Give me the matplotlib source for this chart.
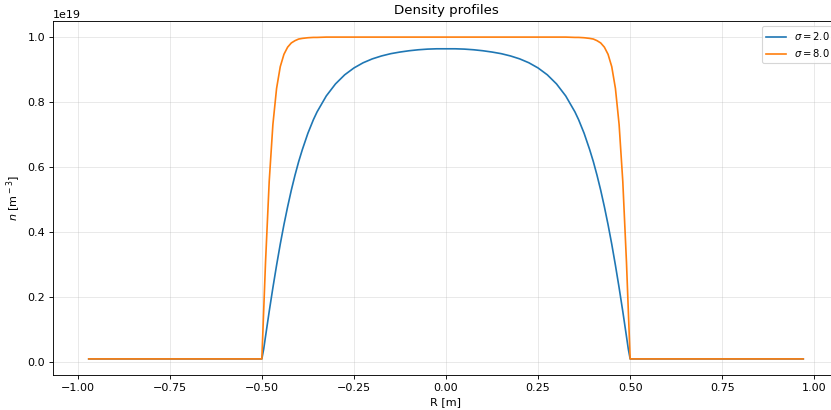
import matplotlib
matplotlib.use("Agg")
import matplotlib.pyplot as plt
import numpy as np

# radius [m] at which the profiles were read
r_m = [-0.97, -0.5, -0.495, -0.49, -0.48, -0.47, -0.46, -0.45, -0.44, -0.43, -0.42, -0.41,
       -0.4, -0.39, -0.375, -0.36, -0.35, -0.325, -0.3, -0.275, -0.25, -0.225, -0.2, -0.175,
       -0.15, -0.125, -0.1, -0.075, -0.05, -0.025,
       0.0,
       0.025, 0.05, 0.075, 0.1, 0.125, 0.15, 0.175, 0.2, 0.225, 0.25, 0.275, 0.3, 0.325,
       0.35, 0.36, 0.375, 0.39, 0.4, 0.41, 0.42, 0.43, 0.44, 0.45, 0.46, 0.47, 0.48, 0.49,
       0.495, 0.5, 0.97]

# density in units of 1e19 m^-3
n_sigma2 = [0.01, 0.01, 0.040, 0.079, 0.156, 0.229, 0.298, 0.363, 0.423, 0.478, 0.529, 0.575,
            0.617, 0.654, 0.704, 0.746, 0.770, 0.819, 0.856, 0.884, 0.905, 0.921, 0.933, 0.942,
            0.949, 0.954, 0.958, 0.961, 0.963, 0.964,
            0.964,
            0.964, 0.963, 0.961, 0.958, 0.954, 0.949, 0.942, 0.933, 0.921, 0.905, 0.884, 0.856,
            0.819, 0.770, 0.746, 0.704, 0.654, 0.617, 0.575, 0.529, 0.478, 0.423, 0.363, 0.298,
            0.229, 0.156, 0.079, 0.040, 0.01, 0.01]

n_sigma8 = [0.01, 0.01, 0.158, 0.307, 0.556, 0.731, 0.842, 0.909, 0.947, 0.969, 0.982, 0.989,
            0.994, 0.996, 0.998, 0.999, 0.999, 1.0, 1.0, 1.0, 1.0, 1.0, 1.0, 1.0,
            1.0, 1.0, 1.0, 1.0, 1.0, 1.0,
            1.0,
            1.0, 1.0, 1.0, 1.0, 1.0, 1.0, 1.0, 1.0, 1.0, 1.0, 1.0, 1.0, 1.0,
            0.999, 0.999, 0.998, 0.996, 0.994, 0.989, 0.982, 0.969, 0.947, 0.909, 0.842,
            0.731, 0.556, 0.307, 0.158, 0.01, 0.01]

labels = [r"$\sigma = 2.0$", r"$\sigma = 8.0$"]

fig = plt.figure(figsize=(831 / 80, 410 / 80), dpi=80)
ax = fig.add_axes([53 / 831, 1 - 375 / 410, (839 - 53) / 831, (375 - 21) / 410])

ax.plot(r_m, np.array(n_sigma2) * 1e19, label=labels[0])
ax.plot(r_m, np.array(n_sigma8) * 1e19, label=labels[1])

ax.set_title("Density profiles")
ax.set_xlabel("R [m]")
ax.set_ylabel(r"$n$ [m$^{{}-3}$]")
ax.grid(True, alpha=0.3)
ax.legend(loc="upper right", fontsize=9)

fig.savefig("out.png", dpi=80)
